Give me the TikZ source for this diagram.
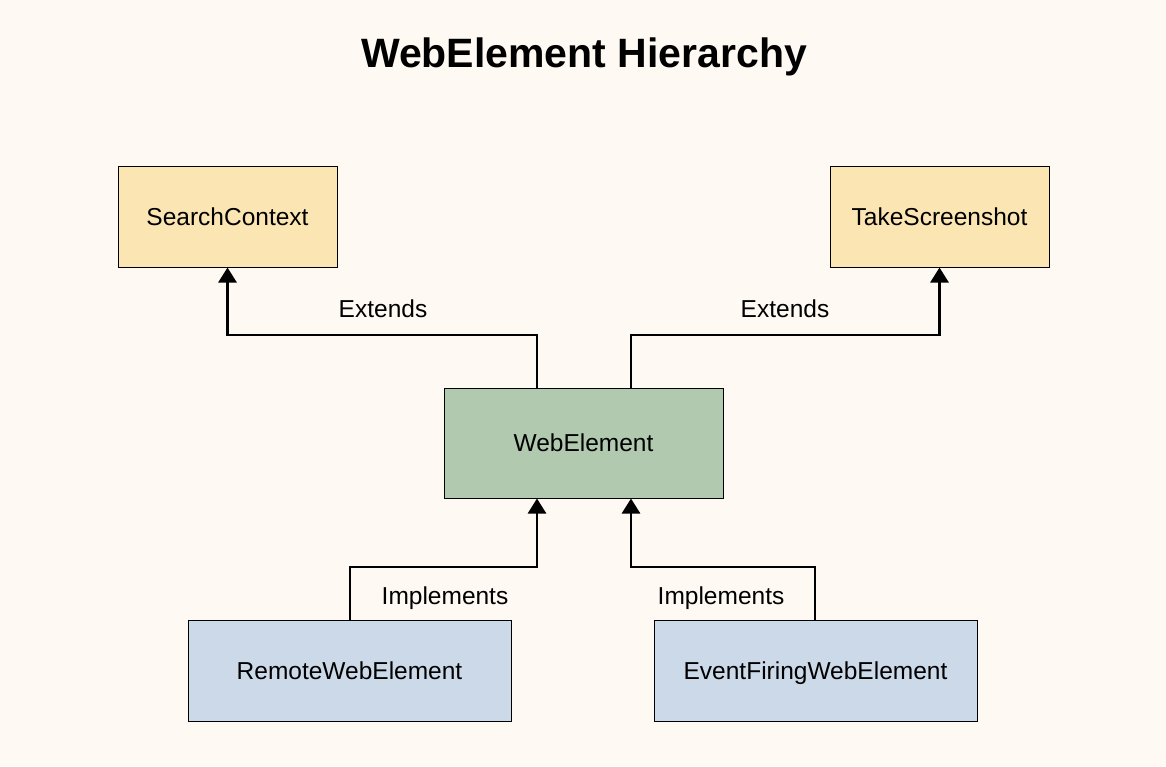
\documentclass[tikz,border=0pt]{standalone}
\usepackage{fontspec}
\setmainfont{Liberation Sans}
\usetikzlibrary{arrows.meta}
\definecolor{bg}{HTML}{FEF9F2}
\definecolor{yel}{HTML}{FBE5B2}
\definecolor{grn}{HTML}{B0C9AF}
\definecolor{blu}{HTML}{CCD9E9}
\begin{document}
\begin{tikzpicture}[x=1pt,y=-1pt,
  box/.style={draw=black,line width=1pt,minimum width=#1,inner sep=0pt,font=\fontsize{24.5}{28}\selectfont,text height=17.5pt,text depth=0pt},
  conn/.style={line width=2.8pt,-{Triangle[width=18pt,length=15pt]}},
  lbl/.style={font=\fontsize{24.5}{28}\selectfont,inner sep=0pt,text height=17.5pt,text depth=0pt}]
\fill[bg] (0,0) rectangle (1166,766);
\useasboundingbox (0,0) rectangle (1166,766);
\node[font=\fontsize{41}{48}\selectfont\bfseries,inner sep=0pt,text height=29.4pt,text depth=0pt] (title) at (584,53) {WebElement Hierarchy};
\node[box=219pt,fill=yel,minimum height=101pt] (sc) at (227.5,216.5) {SearchContext};
\node[box=219pt,fill=yel,minimum height=101pt] (ts) at (939.5,216.5) {TakeScreenshot};
\node[box=279pt,fill=grn,minimum height=110pt] (we) at (583.5,443) {WebElement};
\node[box=323pt,fill=blu,minimum height=101pt] (rwe) at (349.5,670.5) {RemoteWebElement};
\node[box=323pt,fill=blu,minimum height=101pt] (efwe) at (815.5,670.5) {EventFiringWebElement};
\coordinate (k1) at (537,335);
\coordinate (k2) at (631,335);
\coordinate (k3) at (350,567);
\coordinate (k4) at (815,567);
\draw[conn] (we.north -| k1) -- (k1) -| (sc.south);
\draw[conn] (we.north -| k2) -- (k2) -| (ts.south);
\draw[conn] (rwe.north -| k3) -- (k3) -| (we.south -| k1);
\draw[conn] (efwe.north -| k4) -- (k4) -| (we.south -| k2);
\node[lbl] (l1) at (383,309) {Extends};
\node[lbl] (l2) at (785,309) {Extends};
\node[lbl] (l3) at (445,596) {Implements};
\node[lbl] (l4) at (721,596) {Implements};
\end{tikzpicture}
\end{document}
